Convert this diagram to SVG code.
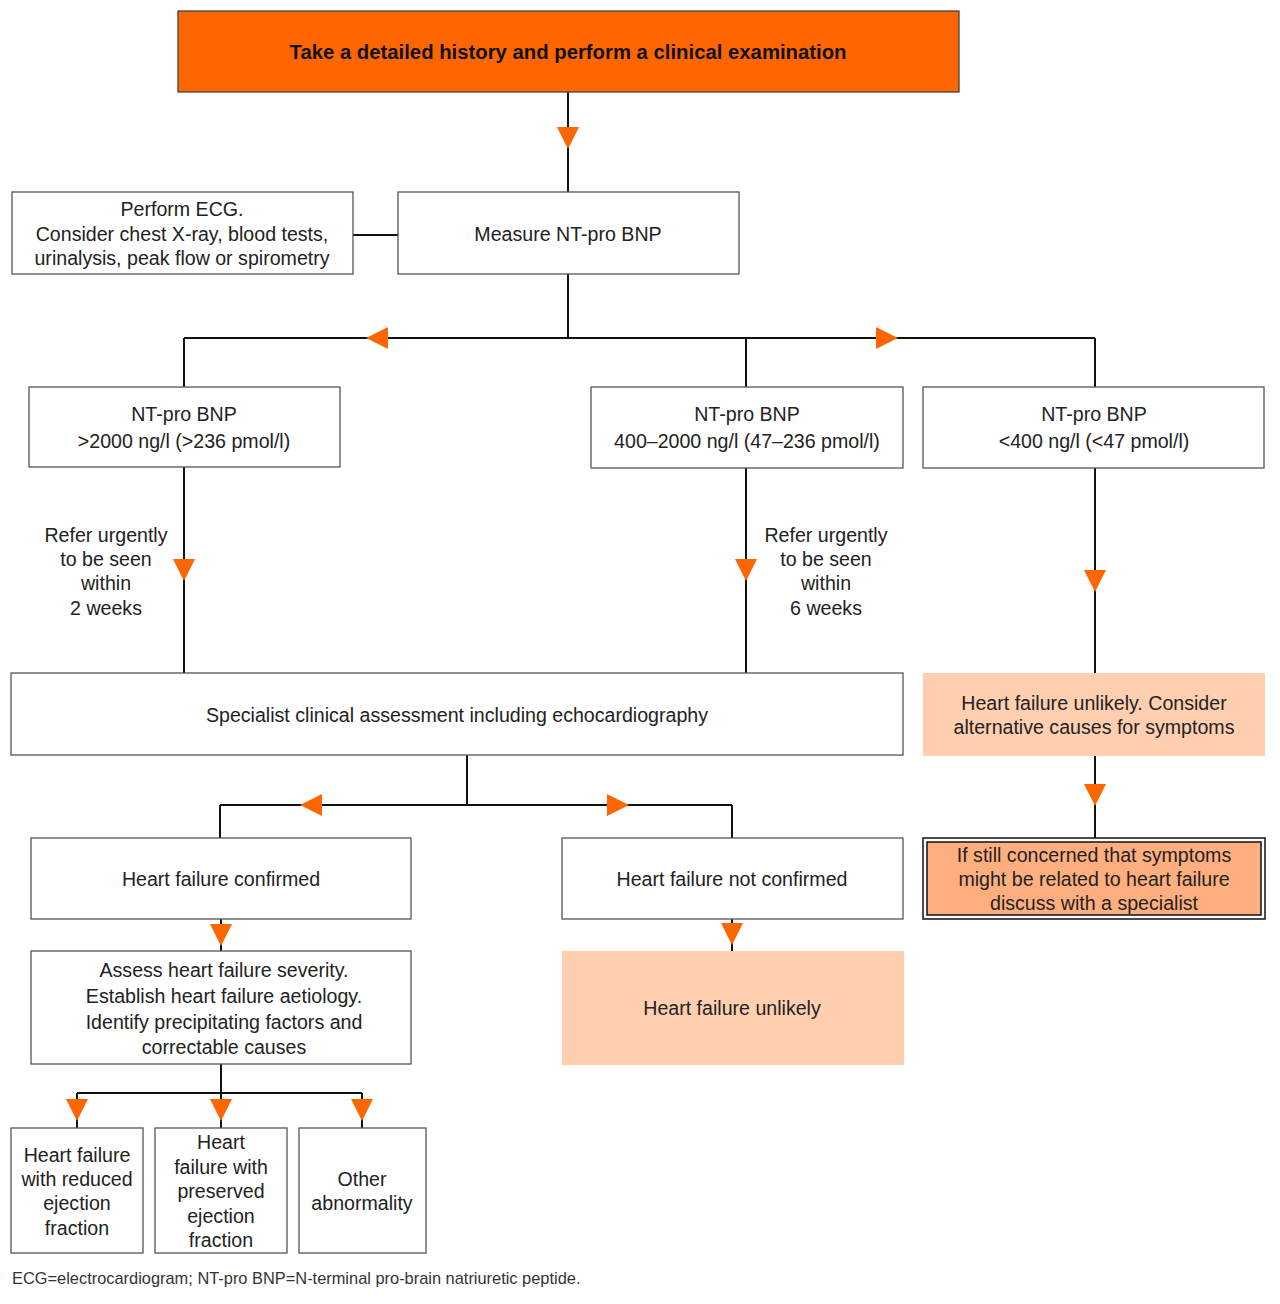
<svg xmlns="http://www.w3.org/2000/svg" width="1280" height="1304" viewBox="0 0 1280 1304">
<style>
.box{fill:#fff;stroke:#555;stroke-width:1.3}
.peach{fill:#FFCFB0;stroke:none}
.t{font-family:"Liberation Sans",Arial,sans-serif;font-size:19.6px;fill:#222;text-anchor:middle}
.c{stroke:#111;stroke-width:2;fill:none}
.a{fill:#FF6600}
</style>
<rect width="1280" height="1304" fill="#fff"/>
<g id="connectors">
<path class="c" d="M568,92V192M353,235H398M568,274V338M184,338H1095M184,338V387M746,338V387M1095,338V387M184,467V673M746,468V673M1095,468V673M1095,756V838M467,755V805M220,805H732M220,805V838M732,805V838M221,919V951M732,919V951M221,1064V1093M77,1093H362M77,1093V1128M221,1093V1128M362,1093V1128"/>
<polygon class="a" points="557,127 579,127 568,149"/>
<polygon class="a" points="366,338 388,327 388,349"/>
<polygon class="a" points="898,338 876,327 876,349"/>
<polygon class="a" points="173,559 195,559 184,581"/>
<polygon class="a" points="735,559 757,559 746,581"/>
<polygon class="a" points="1084,570 1106,570 1095,592"/>
<polygon class="a" points="1084,784 1106,784 1095,806"/>
<polygon class="a" points="300,805 322,794 322,816"/>
<polygon class="a" points="629,805 607,794 607,816"/>
<polygon class="a" points="210,924 232,924 221,946"/>
<polygon class="a" points="721,923 743,923 732,945"/>
<polygon class="a" points="66,1099 88,1099 77,1121"/>
<polygon class="a" points="210,1099 232,1099 221,1121"/>
<polygon class="a" points="351,1099 373,1099 362,1121"/>
</g>
<g id="n-history">
<rect x="178" y="11" width="781" height="81" fill="#FF6600" stroke="#444" stroke-width="1.3"/>
<text class="t" x="568" y="59" font-weight="bold" textLength="557" lengthAdjust="spacingAndGlyphs" style="fill:#111;font-size:20px">Take a detailed history and perform a clinical examination</text>
</g>
<g id="n-ecg">
<rect class="box" x="12" y="192" width="341" height="82"/>
<text class="t" x="182" y="216">Perform ECG.</text>
<text class="t" x="182" y="241">Consider chest X-ray, blood tests,</text>
<text class="t" x="182" y="265">urinalysis, peak flow or spirometry</text>
</g>
<g id="n-measure">
<rect class="box" x="398" y="192" width="341" height="82"/>
<text class="t" x="568" y="241">Measure NT-pro BNP</text>
</g>
<g id="n-high">
<rect class="box" x="29" y="387" width="311" height="80"/>
<text class="t" x="184" y="421">NT-pro BNP</text>
<text class="t" x="184" y="448">&gt;2000 ng/l (&gt;236 pmol/l)</text>
</g>
<g id="n-mid">
<rect class="box" x="591" y="387" width="312" height="81"/>
<text class="t" x="747" y="421">NT-pro BNP</text>
<text class="t" x="747" y="448">400–2000 ng/l (47–236 pmol/l)</text>
</g>
<g id="n-low">
<rect class="box" x="923" y="387" width="341" height="81"/>
<text class="t" x="1094" y="421">NT-pro BNP</text>
<text class="t" x="1094" y="448">&lt;400 ng/l (&lt;47 pmol/l)</text>
</g>
<g id="l-2weeks">
<text class="t" x="106" y="542">Refer urgently</text>
<text class="t" x="106" y="566">to be seen</text>
<text class="t" x="106" y="590">within</text>
<text class="t" x="106" y="615">2 weeks</text>
</g>
<g id="l-6weeks">
<text class="t" x="826" y="542">Refer urgently</text>
<text class="t" x="826" y="566">to be seen</text>
<text class="t" x="826" y="590">within</text>
<text class="t" x="826" y="615">6 weeks</text>
</g>
<g id="n-specialist">
<rect class="box" x="11" y="673" width="892" height="82"/>
<text class="t" x="457" y="722">Specialist clinical assessment including echocardiography</text>
</g>
<g id="n-unlikely-alt">
<rect class="peach" x="923" y="673" width="342" height="83"/>
<text class="t" x="1094" y="710">Heart failure unlikely. Consider</text>
<text class="t" x="1094" y="734">alternative causes for symptoms</text>
</g>
<g id="n-concerned">
<rect x="923" y="838" width="342" height="81" fill="#fff" stroke="#111" stroke-width="1.5"/>
<rect x="927" y="842" width="334" height="73" fill="#FFAF7F" stroke="#111" stroke-width="1.5"/>
<text class="t" x="1094" y="862">If still concerned that symptoms</text>
<text class="t" x="1094" y="886">might be related to heart failure</text>
<text class="t" x="1094" y="910">discuss with a specialist</text>
</g>
<g id="n-confirmed">
<rect class="box" x="31" y="838" width="380" height="81"/>
<text class="t" x="221" y="886">Heart failure confirmed</text>
</g>
<g id="n-notconfirmed">
<rect class="box" x="562" y="838" width="341" height="81"/>
<text class="t" x="732" y="886">Heart failure not confirmed</text>
</g>
<g id="n-assess">
<rect class="box" x="31" y="951" width="380" height="113"/>
<text class="t" x="224" y="977">Assess heart failure severity.</text>
<text class="t" x="224" y="1003">Establish heart failure aetiology.</text>
<text class="t" x="224" y="1029">Identify precipitating factors and</text>
<text class="t" x="224" y="1054">correctable causes</text>
</g>
<g id="n-unlikely">
<rect class="peach" x="562" y="951" width="342" height="114"/>
<text class="t" x="732" y="1015">Heart failure unlikely</text>
</g>
<g id="n-hfref">
<rect class="box" x="11" y="1128" width="132" height="125"/>
<text class="t" x="77" y="1162">Heart failure</text>
<text class="t" x="77" y="1186">with reduced</text>
<text class="t" x="77" y="1210">ejection</text>
<text class="t" x="77" y="1235">fraction</text>
</g>
<g id="n-hfpef">
<rect class="box" x="155" y="1128" width="132" height="125"/>
<text class="t" x="221" y="1149">Heart</text>
<text class="t" x="221" y="1174">failure with</text>
<text class="t" x="221" y="1198">preserved</text>
<text class="t" x="221" y="1223">ejection</text>
<text class="t" x="221" y="1247">fraction</text>
</g>
<g id="n-other">
<rect class="box" x="299" y="1128" width="127" height="125"/>
<text class="t" x="362" y="1186">Other</text>
<text class="t" x="362" y="1210">abnormality</text>
</g>
<text x="12" y="1284" style="font-family:'Liberation Sans',Arial,sans-serif;font-size:16.4px;fill:#333">ECG=electrocardiogram; NT-pro BNP=N-terminal pro-brain natriuretic peptide.</text>
</svg>
